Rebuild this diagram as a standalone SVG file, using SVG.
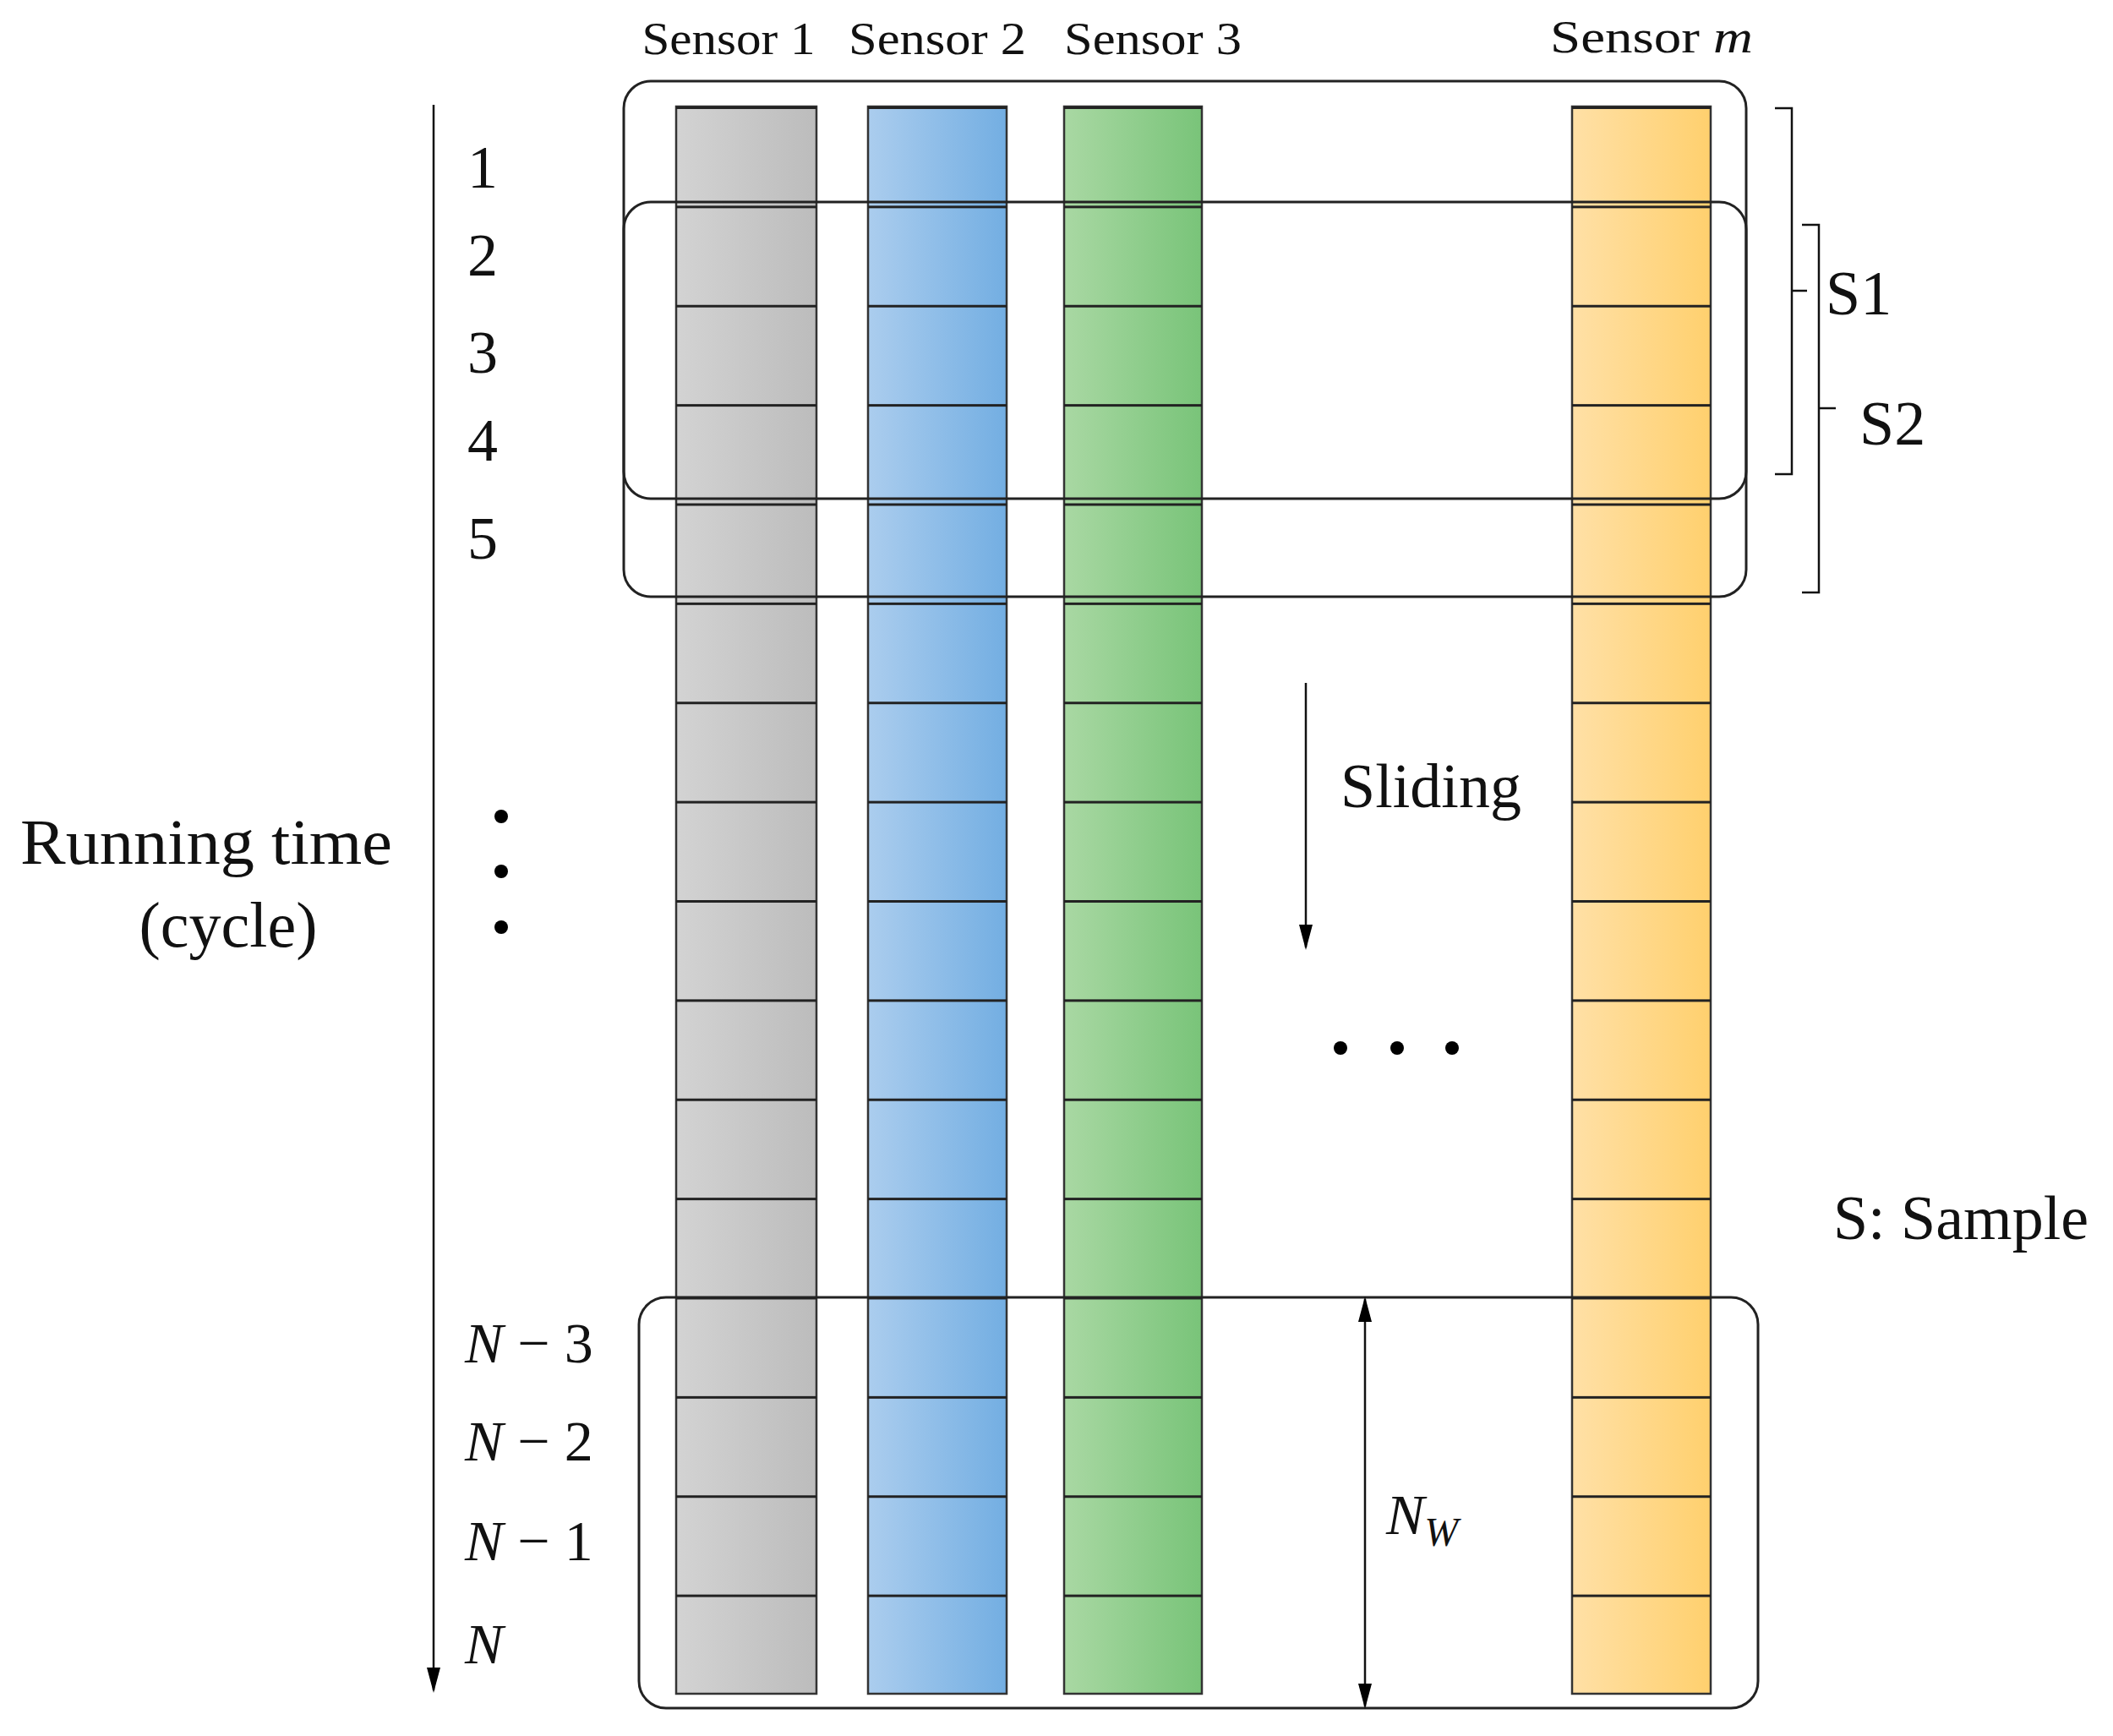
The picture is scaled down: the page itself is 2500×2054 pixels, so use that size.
<svg xmlns="http://www.w3.org/2000/svg" width="2500" height="2054" viewBox="0 0 2500 2054">
<defs>
<linearGradient id="gGray"><stop offset="0" stop-color="#d3d3d3"/><stop offset="1" stop-color="#bcbcbc"/></linearGradient>
<linearGradient id="gBlue"><stop offset="0" stop-color="#abcdee"/><stop offset="1" stop-color="#73aee2"/></linearGradient>
<linearGradient id="gGreen"><stop offset="0" stop-color="#a9d8a3"/><stop offset="1" stop-color="#79c479"/></linearGradient>
<linearGradient id="gOrange"><stop offset="0" stop-color="#ffe0a6"/><stop offset="1" stop-color="#ffd06e"/></linearGradient>
<marker id="ah" viewBox="0 0 10 10" refX="9" refY="5" markerWidth="30" markerHeight="16" markerUnits="userSpaceOnUse" orient="auto-start-reverse" preserveAspectRatio="none"><path d="M0,0 L10,5 L0,10 z" fill="#000"/></marker>
<pattern id="rows" x="0" y="126" width="10" height="117.375" patternUnits="userSpaceOnUse"><rect width="10" height="3" fill="#222"/></pattern>
</defs>
<style>
.col{stroke:#333;stroke-width:2.5}
.t{font-family:'Liberation Serif','Times New Roman',serif;fill:#111}
.win{fill:none;stroke:#222;stroke-width:3}
.ln{stroke:#111;stroke-width:2.5;fill:none}
</style>
<g id="col1"><rect class="col" x="800" y="126" width="166" height="1878" fill="url(#gGray)"/><rect x="800" y="126" width="166" height="1878" fill="url(#rows)"/></g>
<g id="col2"><rect class="col" x="1027" y="126" width="164" height="1878" fill="url(#gBlue)"/><rect x="1027" y="126" width="164" height="1878" fill="url(#rows)"/></g>
<g id="col3"><rect class="col" x="1259" y="126" width="163" height="1878" fill="url(#gGreen)"/><rect x="1259" y="126" width="163" height="1878" fill="url(#rows)"/></g>
<g id="colm"><rect class="col" x="1860" y="126" width="164" height="1878" fill="url(#gOrange)"/><rect x="1860" y="126" width="164" height="1878" fill="url(#rows)"/></g>
<g id="labels">
<text class="t" x="862" y="64" font-size="54" text-anchor="middle" textLength="205" lengthAdjust="spacingAndGlyphs">Sensor 1</text>
<text class="t" x="1109" y="64" font-size="54" text-anchor="middle" textLength="210" lengthAdjust="spacingAndGlyphs">Sensor 2</text>
<text class="t" x="1364" y="64" font-size="54" text-anchor="middle" textLength="210" lengthAdjust="spacingAndGlyphs">Sensor 3</text>
<text class="t" x="1954" y="62" font-size="54" text-anchor="middle" textLength="240" lengthAdjust="spacingAndGlyphs">Sensor <tspan font-style="italic">m</tspan></text>
</g>
<g id="windows">
<rect class="win" x="738" y="96" width="1328" height="610" rx="32"/>
<rect class="win" x="738" y="239" width="1328" height="351" rx="32"/>
<rect class="win" x="756" y="1535" width="1324" height="486" rx="32"/>
</g>
<g id="timeaxis">
<line class="ln" x1="513" y1="124" x2="513" y2="2000" marker-end="url(#ah)"/>
<g class="t" font-size="72" text-anchor="middle">
<text x="571" y="222">1</text><text x="571" y="326">2</text><text x="571" y="441">3</text><text x="571" y="545">4</text><text x="571" y="661">5</text>
</g>
<circle cx="593" cy="966" r="8"/><circle cx="593" cy="1031" r="8"/><circle cx="593" cy="1097" r="8"/>
<text class="t" x="244" y="1022" font-size="76" text-anchor="middle" textLength="440" lengthAdjust="spacingAndGlyphs">Running time</text>
<text class="t" x="270" y="1120" font-size="76" text-anchor="middle">(cycle)</text>
<g class="t" font-size="68">
<text x="550" y="1612"><tspan font-style="italic">N</tspan> − 3</text>
<text x="550" y="1728"><tspan font-style="italic">N</tspan> − 2</text>
<text x="550" y="1846"><tspan font-style="italic">N</tspan> − 1</text>
<text x="550" y="1968" font-style="italic">N</text>
</g>
</g>
<g id="brackets">
<path class="ln" d="M2100,128 H2120 V561 H2100 M2120,344 H2138"/>
<path class="ln" d="M2132,266 H2152 V701 H2132 M2152,483 H2172" stroke="#666"/>
<text class="t" x="2160" y="372" font-size="74">S1</text>
<text class="t" x="2200" y="526" font-size="74">S2</text>
</g>
<g id="connectors">
<line class="ln" x1="1545" y1="808" x2="1545" y2="1121" marker-end="url(#ah)"/>
<line class="ln" x1="1615" y1="1537" x2="1615" y2="2019" marker-start="url(#ah)" marker-end="url(#ah)"/>
</g>
<g id="annot">
<text class="t" x="1693" y="955" font-size="74" text-anchor="middle">Sliding</text>
<circle cx="1586" cy="1240" r="8"/><circle cx="1653" cy="1240" r="8"/><circle cx="1718" cy="1240" r="8"/>
<text class="t" x="1640" y="1815" font-size="68" font-style="italic">N<tspan font-size="48" dy="14">W</tspan></text>
<text class="t" x="2320" y="1466" font-size="74" text-anchor="middle">S: Sample</text>
</g>
</svg>
